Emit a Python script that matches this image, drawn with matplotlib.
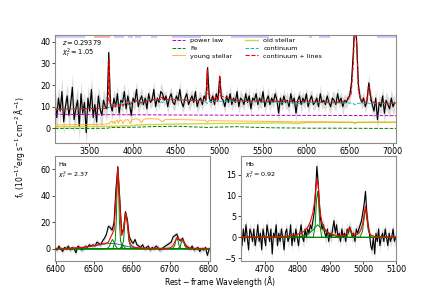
import matplotlib
matplotlib.use("Agg")
import matplotlib.pyplot as plt
import numpy as np

# --- full spectrum: 20 A bins starting at 3104 A (rest frame)
flux = [12, 5, 14, 8, 17, 3, 10, 15, 6, 11, 19, 4, 9, 13, 1, 16, 7, 12, -2, 14,
        8, 18, 5, 11, 3, 15, 9, 6, 13, 10,
        9, 35, 11,
        8, 14, 10, 16, 7, 13, 12, 17, 9, 15, 11, 6, 14, 12, 18, 10, 13,
        15, 11, 14, 9, 16, 12, 13, 18, 10, 14, 12, 17, 16, 13, 15, 10, 14, 16, 12, 11,
        15, 13, 18, 12, 10, 14, 16, 11, 13, 15, 12, 17, 10, 13, 14, 11, 15, 13,
        28, 14,
        12, 15, 11, 16, 13,
        24, 14,
        13, 10, 15, 12, 16, 11, 14, 12, 17, 10, 14, 13, 11, 16, 12, 15, 9, 14, 13, 16,
        11, 14, 12, 17, 10, 13, 15, 11, 14, 12, 16, 13, 7, 14, 11, 15, 12, 13, 10, 16,
        12, 14, 7, 13, 15, 11, 14, 12, 16, 10, 13, 15, 11, 12, 14, 10, 16, 12, 13, 11,
        15, 12, 10, 14, 13, 11, 16, 12, 14, 10, 13, 12, 14,
        15, 21, 34, 52, 40, 20, 14,
        12, 14, 10, 13,
        21, 15,
        11, 8, 14, 4, 12, 10, 15, 7, 13, 11, 9, 14, 10, 12]
err = [6, 7, 6, 6, 7, 6, 5, 6, 7, 6,
       6, 7, 6, 6, 7, 6, 6, 5, 7, 6,
       6, 6, 7, 6, 6, 5, 6, 6, 5, 5,
       5, 5, 4, 4, 4, 5, 4, 4, 4, 5,
       4, 4, 4, 4, 5, 4, 4, 4, 4, 4,
       4, 3, 3, 4, 3, 3, 3, 4, 3, 3,
       3, 4, 3, 3, 3, 3, 4, 3, 3, 3,
       3, 3, 4, 3, 3, 3, 3, 3, 4, 3,
       3, 3, 3, 4, 3, 3, 3, 3, 4, 3,
       3, 3, 3, 3, 3, 4, 3, 3, 3, 3,
       3, 4, 3, 3, 3, 3, 3, 4, 3, 3,
       3, 3, 4, 3, 3, 3, 3, 3, 4, 3,
       3, 3, 3, 4, 3, 3, 3, 3, 3, 4,
       3, 3, 3, 3, 4, 3, 3, 3, 3, 4,
       3, 3, 4, 3, 3, 3, 3, 4, 3, 3,
       3, 3, 3, 4, 3, 3, 3, 3, 4, 3,
       3, 4, 3, 3, 3, 3, 4, 3, 3, 3,
       3, 4, 4, 5, 4, 3, 3, 3, 3, 3,
       3, 4, 3, 4, 4, 4, 5, 4, 4, 4,
       5, 4, 4, 4, 4, 4, 4]

# continuum components
mod_wave = [3104, 3300, 3500, 3700, 3725, 3745, 3760, 3770, 3785, 3797, 3810, 3825,
            3835, 3850, 3870, 3889, 3910, 3940, 3955, 3970, 3990, 4030, 4070, 4102,
            4130, 4200, 4300, 4340, 4380, 4500, 4700, 4840, 4861, 4880, 5000, 5200,
            5400, 5600, 5800, 5890, 6000, 6200, 6400, 6540, 6563, 6590, 6800, 7038]
pl = [6.5, 6.45, 6.4, 6.35, 6.35, 6.35, 6.34, 6.34, 6.33, 6.33, 6.33, 6.32,
      6.32, 6.32, 6.31, 6.31, 6.3, 6.3, 6.3, 6.29, 6.29, 6.28, 6.27, 6.27,
      6.26, 6.25, 6.23, 6.22, 6.21, 6.19, 6.16, 6.14, 6.13, 6.13, 6.11, 6.08,
      6.06, 6.03, 6.01, 6.0, 5.99, 5.97, 5.95, 5.94, 5.93, 5.93, 5.91, 5.89]
fe = [0, 0, 0, 0.05, 0.2, 0.4, 0.4, 0.4, 0.4, 0.4, 0.4, 0.4,
      0.4, 0.4, 0.5, 0.5, 0.5, 0.5, 0.5, 0.5, 0.5, 0.6, 0.6, 0.6,
      0.7, 0.8, 0.9, 0.8, 0.9, 1.0, 0.7, 0.5, 0.4, 0.5, 0.6, 0.8,
      0.5, 0.3, 0.2, 0.2, 0.1, 0.1, 0.1, 0.05, 0.05, 0.05, 0, 0]
young = [1.6, 1.7, 1.8, 2.0, 2.2, 3.0, 3.4, 2.4, 3.3, 2.2, 3.5, 3.8,
         2.3, 3.6, 3.9, 2.2, 3.8, 4.1, 3.8, 2.2, 3.8, 4.4, 4.3, 2.6,
         4.3, 4.5, 4.3, 3.0, 4.2, 4.1, 3.9, 3.7, 2.8, 3.6, 3.5, 3.4,
         3.3, 3.2, 3.1, 3.0, 3.1, 3.0, 2.9, 2.9, 2.2, 2.8, 2.8, 2.8]
old = [0.8, 0.8, 0.9, 0.9, 0.9, 1.0, 1.0, 1.0, 1.0, 1.0, 1.0, 1.0,
       1.0, 1.1, 1.1, 1.1, 1.2, 1.2, 1.1, 1.0, 1.3, 1.5, 1.6, 1.6,
       1.7, 1.8, 1.8, 1.8, 1.9, 2.0, 2.1, 2.2, 2.2, 2.2, 2.3, 2.3,
       2.4, 2.5, 2.5, 2.3, 2.7, 2.8, 2.8, 2.8, 2.7, 2.8, 2.9, 2.9]

# continuum + lines
tot_wave = [3104, 3300, 3500, 3700, 3718, 3727, 3736, 3760, 3770, 3785, 3797, 3810,
            3835, 3870, 3889, 3910, 3970, 3990, 4070, 4102, 4200, 4330, 4340, 4350,
            4500, 4700, 4840, 4852, 4861, 4870, 4940, 4959, 4980, 4998, 5007, 5016,
            5200, 5400, 5600, 5800, 6000, 6200, 6400, 6480, 6520, 6545, 6563, 6585,
            6605, 6640, 6700, 6716, 6731, 6745, 6800, 7038]
tot_flux = [8.9, 9.0, 9.2, 9.3, 12, 32, 12, 10.8, 10.0, 10.8, 10.0, 11.2,
            10.2, 11.5, 10.5, 12, 10.8, 12.2, 12.8, 11.8, 13.3, 13.4, 14.5, 13.4,
            13.2, 12.9, 12.7, 16, 27, 16, 12.6, 15, 12.6, 16, 24, 15,
            12.8, 12.6, 12.5, 12.4, 12.3, 12.2, 12.1, 13, 16, 30, 50, 38,
            17, 12.5, 12, 19, 19, 12.5, 11.8, 11.5]

# continuum windows (top strip)
win_lo = [3104, 3785, 3943, 4028, 4212, 4458, 5136, 6037, 6144, 6819]
win_hi = [3450, 3901, 4001, 4094, 4278, 4786, 5572, 6068, 6280, 7040]
mask_lo = [3558]
mask_hi = [3739]

# --- Ha region, 5 A bins from 6398 A
ha_flux = [1, -1, 2, 0, -2, 1, 0, 2, -1, 1,
           0, -3, 2, 1, -1, 0, 2, 1, 3, 2,
           3, 2, 5, 4, 3, 6, 8, 11, 17, 16,
           14, 20, 45, 62, 38, 12, 15, 28, 22, 9,
           6, 4, 7, 3, 2, 1, 3, 0, 1, 2,
           -1, 1, 0, 2, 1, -1, 0, 1, 2, 3,
           4, 5, 9, 10, 11, 7, 6, 8, 4, 2,
           1, 0, 2, -1, 0, 1, -2, 0, -1, 1,
           -5, 0]
ha_model = [0.2, 0.2, 0.2, 0.2, 0.3, 0.3, 0.3, 0.4, 0.4, 0.5,
            0.6, 0.7, 0.8, 0.9, 1.0, 1.2, 1.4, 1.6, 1.8, 2.0,
            2.2, 2.5, 2.8, 3.1, 3.4, 3.7, 4.0, 4.3, 5.0, 8.0,
            11, 14, 38, 61, 35, 10, 14, 27, 20, 6,
            2.5, 1.6, 1.1, 0.8, 0.6, 0.5, 0.4, 0.3, 0.3, 0.3,
            0.3, 0.3, 0.3, 0.3, 0.3, 0.3, 0.3, 0.3, 0.3, 0.3,
            0.6, 1.0, 2.5, 5.5, 8.5, 7.5, 6.5, 7.0, 4.5, 1.5,
            0.6, 0.3, 0.3, 0.3, 0.3, 0.3, 0.3, 0.3, 0.3, 0.3,
            0.3, 0.3]
ha_err = 2.0
ha_broad_wave = [6398, 6440, 6470, 6500, 6520, 6540, 6555, 6570, 6590, 6610, 6630, 6660, 6805]
ha_broad = [0, 0.3, 1.0, 2.2, 3.2, 4.0, 4.0, 3.0, 1.6, 0.7, 0.2, 0, 0]
ha_narrow = [
    ([6398, 6535, 6541, 6545, 6549, 6553, 6557, 6563, 6805], [0, 0, 2, 5, 7, 5, 2, 0, 0]),
    ([6398, 6550, 6556, 6559, 6561, 6563, 6565, 6567, 6570, 6576, 6805],
     [0, 0, 6, 22, 45, 58, 45, 22, 6, 0, 0]),
    ([6398, 6568, 6572, 6576, 6580, 6584, 6805], [0, 0, 1.5, 3, 1.5, 0, 0]),
    ([6398, 6572, 6578, 6581, 6583, 6585, 6588, 6592, 6598, 6805],
     [0, 0, 6, 18, 25, 26, 18, 6, 0, 0]),
    ([6398, 6706, 6712, 6715, 6718, 6721, 6724, 6730, 6805], [0, 0, 2, 6, 8, 6, 2, 0, 0]),
    ([6398, 6721, 6727, 6730, 6733, 6736, 6739, 6745, 6805], [0, 0, 2, 5, 6, 5, 2, 0, 0]),
]

# --- Hb region, 4 A bins from 4627 A
hb_flux = [1, -2, 2, -1, 3, 0, -3, 2, 1, -1,
           2, -2, 0, 3, -1, 1, -3, 2, 0, -2,
           3, 1, -1, 2, -4, 1, 0, 3, -2, 1,
           -1, 2, 0, -3, 1, 2, -1, 0, 3, -2,
           1, -1, 2, 0, -2, 1, 3, 0, -1, 2,
           0, 2, 1, 3, 2, 4, 6, 11, 17, 13,
           7, 4, 2, 3, 1, 0, 2, -1, 1, 0,
           2, 4, 1, 3, 0, 1, -1, 2, 0, 1,
           -1, 2, 1, 2.5, 1.5, 0, 1, -1, 2, 1,
           2, 3, 4, 6, 8, 11, 6, 3, 1, -2,
           -3, 0, -4, 1, -1, 2, -2, 0, 1, -1,
           2, 0, -2, 1, -1, 0, 2, -1, 0]
hb_model = [0.1, 0.1, 0.1, 0.1, 0.1, 0.1, 0.1, 0.1, 0.1, 0.1,
            0.1, 0.1, 0.1, 0.1, 0.1, 0.1, 0.1, 0.1, 0.1, 0.1,
            0.1, 0.1, 0.1, 0.1, 0.1, 0.1, 0.1, 0.1, 0.15, 0.15,
            0.2, 0.2, 0.2, 0.25, 0.25, 0.3, 0.3, 0.35, 0.4, 0.45,
            0.5, 0.55, 0.6, 0.7, 0.8, 0.9, 1.0, 1.2, 1.4, 1.7,
            2.0, 2.5, 3.0, 3.8, 4.8, 6.0, 8.0, 11.0, 14.0, 12.5,
            8.0, 5.0, 3.5, 2.6, 2.0, 1.6, 1.3, 1.1, 0.9, 0.8,
            0.7, 0.6, 0.55, 0.5, 0.45, 0.4, 0.4, 0.4, 0.45, 0.5,
            0.7, 1.2, 2.0, 2.3, 1.5, 0.8, 0.6, 0.6, 0.7, 0.8,
            1.0, 1.5, 2.2, 3.5, 5.5, 7.5, 5.5, 2.5, 1.2, 0.6,
            0.4, 0.3, 0.25, 0.2, 0.2, 0.2, 0.15, 0.15, 0.15, 0.1,
            0.1, 0.1, 0.1, 0.1, 0.1, 0.1, 0.1, 0.1, 0.1]
hb_err = 1.5
hb_comps = [
    ([4627, 4800, 4830, 4850, 4861, 4875, 4900, 4930, 5100], [0, 0, 0.6, 2, 3, 2, 0.6, 0, 0]),
    ([4627, 4848, 4854, 4858, 4861, 4864, 4868, 4874, 5100], [0, 0, 3, 9, 11, 9, 3, 0, 0]),
    ([4627, 4950, 4955, 4959, 4963, 4968, 5100], [0, 0, 1.2, 2, 1.2, 0, 0]),
    ([4627, 4990, 4998, 5003, 5007, 5011, 5016, 5024, 5100], [0, 0, 1.5, 4.5, 7, 4.5, 1.5, 0, 0]),
]

# wavelength grids of the binned spectra
wave = 3104 + 20 * np.arange(len(flux))
ha_wave = 6398 + 5 * np.arange(len(ha_flux))
hb_wave = 4627 + 4 * np.arange(len(hb_flux))
flux = np.array(flux, float)
err = np.array(err, float)
ha_flux = np.array(ha_flux, float)
hb_flux = np.array(hb_flux, float)
conti = np.array(pl) + np.array(fe) + np.array(young) + np.array(old)

tick_fs = 5.8
spine_c = '0.55'

fig = plt.figure(figsize=(4.4, 2.94), dpi=100)
ax0 = fig.add_axes([0.125, 0.5146, 0.775, 0.3663])
ax1 = fig.add_axes([0.125, 0.1133, 0.3523, 0.3561])
ax2 = fig.add_axes([0.547, 0.1133, 0.353, 0.3561])

for ax in (ax0, ax1, ax2):
    for s in ax.spines.values():
        s.set_color(spine_c)
        s.set_linewidth(0.8)
    ax.tick_params(labelsize=tick_fs, length=2, width=0.5, pad=1.2)

# top panel
ax0.fill_between(wave, flux - err, flux + err, color='0.86', lw=0, zorder=1)
ax0.plot(wave, flux, 'k', lw=0.85, zorder=2)
ax0.plot(mod_wave, pl, color='m', ls='--', lw=0.7, label='power law', zorder=3)
ax0.plot(mod_wave, fe, color='g', ls='--', lw=0.7, label='Fe', zorder=3)
ax0.plot(mod_wave, young, color='orange', lw=0.7, alpha=0.8, label='young stellar', zorder=3)
ax0.plot(mod_wave, old, color='y', lw=1.0, alpha=0.7, label='old stellar', zorder=3)
ax0.plot(mod_wave, conti, color='c', ls='--', lw=0.7, label='continuum', zorder=3)
ax0.plot(tot_wave, tot_flux, color='r', ls='--', lw=0.8, label='continuum + lines', zorder=4)
for lo, hi in zip(win_lo, win_hi):
    ax0.axvspan(lo, hi, ymin=0.975, ymax=1.0, color='b', alpha=0.2, lw=0)
for lo, hi in zip(mask_lo, mask_hi):
    ax0.axvspan(lo, hi, ymin=0.975, ymax=1.0, color='r', alpha=0.3, lw=0)
ax0.set_xlim(3104, 7038)
ax0.set_ylim(-6.6, 43.1)
ax0.set_xticks([3500, 4000, 4500, 5000, 5500, 6000, 6500, 7000])
ax0.set_yticks([0, 10, 20, 30, 40])
ax0.text(0.02, 0.93, r'$z = 0.29379$', transform=ax0.transAxes, fontsize=4.8, va='center')
ax0.text(0.02, 0.83, r'$\chi^2_r = 1.05$', transform=ax0.transAxes, fontsize=4.8, va='center')
ax0.legend(loc='upper left', bbox_to_anchor=(0.343, 0.975), ncol=2, frameon=False,
           fontsize=4.6, handlelength=2.1, handletextpad=0.8, columnspacing=1.9,
           labelspacing=0.35, borderpad=0, borderaxespad=0)

# Ha panel
ax1.fill_between(ha_wave, ha_flux - ha_err, ha_flux + ha_err, color='0.86', lw=0, zorder=1)
ax1.plot(ha_wave, ha_flux, 'k', lw=0.8, zorder=2)
ax1.plot(ha_broad_wave, ha_broad, color='tab:blue', lw=0.7, zorder=3)
for w, f in ha_narrow:
    ax1.plot(w, f, color='g', lw=0.7, zorder=3)
ax1.plot(ha_wave, ha_model, color='r', lw=0.8, zorder=4)
ax1.set_xlim(6398, 6805)
ax1.set_ylim(-9, 70)
ax1.set_xticks([6400, 6500, 6600, 6700, 6800])
ax1.set_yticks([0, 20, 40, 60])
ax1.text(0.02, 0.915, 'Ha', transform=ax1.transAxes, fontsize=4.6, va='center')
ax1.text(0.02, 0.82, r'$\chi^2_r = 2.37$', transform=ax1.transAxes, fontsize=4.6, va='center')

# Hb panel
ax2.fill_between(hb_wave, hb_flux - hb_err, hb_flux + hb_err, color='0.86', lw=0, zorder=1)
ax2.plot(hb_wave, hb_flux, 'k', lw=0.8, zorder=2)
for w, f in hb_comps:
    ax2.plot(w, f, color='g', lw=0.7, zorder=3)
ax2.plot(hb_wave, hb_model, color='r', lw=0.8, zorder=4)
ax2.set_xlim(4627, 5100)
ax2.set_ylim(-5.6, 19.5)
ax2.set_xticks([4700, 4800, 4900, 5000, 5100])
ax2.set_yticks([-5, 0, 5, 10, 15])
ax2.text(0.03, 0.915, 'Hb', transform=ax2.transAxes, fontsize=4.6, va='center')
ax2.text(0.03, 0.82, r'$\chi^2_r = 0.92$', transform=ax2.transAxes, fontsize=4.6, va='center')

fig.text(0.045, 0.5, r'$\rm f_{\lambda}$ ($\rm 10^{-17} erg\;s^{-1}\;cm^{-2}\;\AA^{-1}$)',
         rotation=90, ha='center', va='center', fontsize=5.5)
fig.text(0.5, 0.042, r'$\rm Rest-frame\ Wavelength$ ($\rm \AA$)', ha='center', va='center',
         fontsize=5.5)

fig.savefig('out.png', dpi=100)
